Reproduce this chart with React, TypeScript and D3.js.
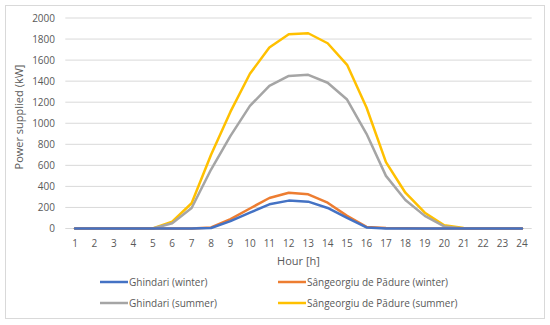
import React, { useEffect, useRef } from "react";
import * as d3 from "d3";

const hours = d3.range(1, 25);
const ghindariWinter = [0, 0, 0, 0, 0, 0, 0, 5, 70, 150, 230, 265, 255, 195, 100, 10, 0, 0, 0, 0, 0, 0, 0, 0];
const sangeorgiuWinter = [0, 0, 0, 0, 0, 0, 0, 10, 90, 190, 290, 340, 325, 245, 120, 15, 5, 2, 0, 0, 0, 0, 0, 0];
const ghindariSummer = [0, 0, 0, 0, 0, 50, 195, 560, 880, 1165, 1355, 1450, 1460, 1385, 1225, 900, 500, 270, 120, 20, 0, 0, 0, 0];
const sangeorgiuSummer = [0, 0, 0, 0, 0, 65, 240, 700, 1110, 1470, 1720, 1845, 1855, 1760, 1555, 1150, 630, 340, 150, 30, 5, 0, 0, 0];
const yTicks = [0, 200, 400, 600, 800, 1000, 1200, 1400, 1600, 1800, 2000];

const series = [
  { name: "Ghindari (winter)", values: ghindariWinter, color: "#4472C4" },
  { name: "Sângeorgiu de Pădure (winter)", values: sangeorgiuWinter, color: "#ED7D31" },
  { name: "Ghindari (summer)", values: ghindariSummer, color: "#A5A5A5" },
  { name: "Sângeorgiu de Pădure (summer)", values: sangeorgiuSummer, color: "#FFC000" },
];

const App = () => {
  const svgRef = useRef<SVGSVGElement>(null);

  useEffect(() => {
    const width = 550, height = 325;
    const left = 65.3, right = 531.7, top = 18, bottom = 228.5;
    const font = "Open Sans, sans-serif";
    const textColor = "#595959";

    const svg = d3.select(svgRef.current).attr("width", width).attr("height", height);
    svg.selectAll("*").remove();

    svg.append("rect")
      .attr("x", 5.5).attr("y", 5.5).attr("width", 539).attr("height", 313)
      .attr("fill", "white").attr("stroke", "#D9D9D9");

    // category scale: points sit in the middle of each band
    const x = d3.scalePoint<number>().domain(hours).range([left, right]).padding(0.5);
    const y = d3.scaleLinear().domain([0, 2000]).range([bottom, top]);

    // grid
    svg.append("g")
      .selectAll("line")
      .data(yTicks)
      .join("line")
      .attr("x1", left).attr("x2", right)
      .attr("y1", d => y(d)).attr("y2", d => y(d))
      .attr("stroke", "#D9D9D9").attr("stroke-width", 1);

    // y labels
    svg.append("g")
      .selectAll("text")
      .data(yTicks)
      .join("text")
      .attr("x", 55).attr("y", d => y(d))
      .attr("dy", "0.35em")
      .attr("text-anchor", "end")
      .attr("font-family", font).attr("font-size", 10).attr("fill", textColor)
      .text(d => d);

    // x labels
    svg.append("g")
      .selectAll("text")
      .data(hours)
      .join("text")
      .attr("x", d => x(d)!).attr("y", 247)
      .attr("text-anchor", "middle")
      .attr("font-family", font).attr("font-size", 10).attr("fill", textColor)
      .text(d => d);

    svg.append("text")
      .attr("x", (left + right) / 2).attr("y", 265)
      .attr("text-anchor", "middle")
      .attr("font-family", font).attr("font-size", 11).attr("fill", textColor)
      .text("Hour [h]");

    svg.append("text")
      .attr("transform", `translate(23, 117) rotate(-90)`)
      .attr("text-anchor", "middle")
      .attr("font-family", font).attr("font-size", 11).attr("fill", textColor)
      .text("Power supplied (kW]");

    const line = d3.line<number>()
      .x((_, i) => x(hours[i])!)
      .y(d => y(d));

    svg.append("g")
      .selectAll("path")
      .data([...series].reverse())
      .join("path")
      .attr("d", d => line(d.values))
      .attr("fill", "none")
      .attr("stroke", d => d.color)
      .attr("stroke-width", 2.5)
      .attr("stroke-linejoin", "round")
      .attr("stroke-linecap", "round");

    // legend, two columns
    const legendPos = [[100, 282], [278, 282], [100, 303], [278, 303]];
    const legend = svg.append("g")
      .selectAll("g")
      .data(series)
      .join("g")
      .attr("transform", (_, i) => `translate(${legendPos[i][0]}, ${legendPos[i][1]})`);

    legend.append("line")
      .attr("x1", 0).attr("x2", 28).attr("y1", 0).attr("y2", 0)
      .attr("stroke", d => d.color).attr("stroke-width", 2.5);

    legend.append("text")
      .attr("x", 29).attr("y", 0).attr("dy", "0.35em")
      .attr("font-family", font).attr("font-size", 10).attr("fill", textColor)
      .text(d => d.name);
  }, []);

  return <svg ref={svgRef} style={{ position: "absolute", left: 0, top: 0 }}></svg>;
};

export default App;
